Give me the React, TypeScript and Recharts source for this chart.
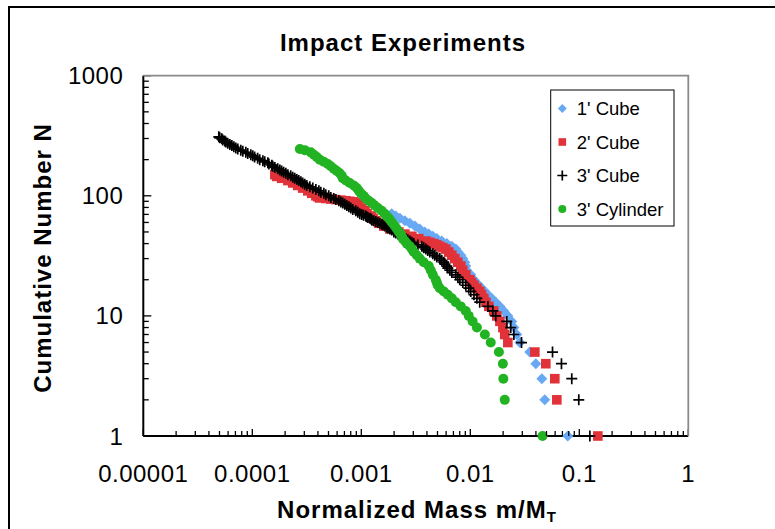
import React from 'react';
import { ScatterChart, Scatter, XAxis, YAxis } from 'recharts';

const massDecades = [0.00001, 0.0001, 0.001, 0.01, 0.1, 1];
const massLabels = ['0.00001', '0.0001', '0.001', '0.01', '0.1', '1'];
const countDecades = [1, 10, 100, 1000];
const countLabels = ['1', '10', '100', '1000'];
const minorSteps = [2, 3, 4, 5, 6, 7, 8, 9];

const seriesNames = ["1' Cube", "2' Cube", "3' Cube", "3' Cylinder"];

// cumulative number N (rank) and normalized mass m/MT
const cube1N = [1, 2, 3, 4, 5, 6, 7, 8, 9, 10, 11, 12, 13, 14, 15, 16, 17, 18, 19, 20, 22, 24, 26, 28, 30, 32, 34, 36, 38, 40, 42, 44, 46, 48, 50, 53, 56, 59, 62, 65, 68, 71];
const cube1M = [0.0784, 0.0482, 0.0453, 0.0399, 0.0351, 0.0285, 0.0267, 0.0251, 0.024, 0.0221, 0.0203, 0.0187, 0.0171, 0.0157, 0.0145, 0.0136, 0.0127, 0.012, 0.0112, 0.0108, 0.0101, 0.00928, 0.00909, 0.0089, 0.00853, 0.00818, 0.00768, 0.00736, 0.00677, 0.00609, 0.00547, 0.00493, 0.00453, 0.00416, 0.00382, 0.00344, 0.0031, 0.00279, 0.00251, 0.00226, 0.00207, 0.0019];

const cube2N = [1, 2, 3, 4, 5, 6, 7, 8, 9, 10, 11, 12, 13, 14, 15, 16, 17, 18, 19, 20, 22, 24, 26, 28, 30, 32, 34, 36, 37, 38, 39, 40, 41, 42, 44, 46, 48, 50, 53, 56, 59, 62, 65, 68, 71, 75, 79, 83, 87, 89, 90, 91, 92, 93, 94, 95, 96, 98, 100, 105, 110, 116, 122, 128, 134, 140, 145, 150];
const cube2M = [0.148, 0.0622, 0.0596, 0.0493, 0.0391, 0.0221, 0.0207, 0.0199, 0.0187, 0.0175, 0.0164, 0.0148, 0.0139, 0.0133, 0.0127, 0.0122, 0.0115, 0.0108, 0.0103, 0.00989, 0.00909, 0.00853, 0.00818, 0.00768, 0.00721, 0.00677, 0.00635, 0.00596, 0.00559, 0.00525, 0.00493, 0.00463, 0.00425, 0.00391, 0.00337, 0.00291, 0.00251, 0.00221, 0.00183, 0.00161, 0.00145, 0.00136, 0.00128, 0.00123, 0.00113, 0.00108, 0.00101, 0.000949, 0.00091, 0.000854, 0.000784, 0.000721, 0.000649, 0.000584, 0.000525, 0.000472, 0.000416, 0.0004, 0.000383, 0.000351, 0.000323, 0.00029, 0.000261, 0.000235, 0.000212, 0.000186, 0.000168, 0.000161];

const cube3N = [1, 2, 3, 4, 5, 6, 7, 8, 9, 10, 11, 12, 13, 14, 15, 16, 17, 18, 19, 20, 21, 22, 23, 24, 25, 26, 27, 28, 29, 30, 31, 32, 33, 34, 35, 36, 37, 38, 39, 40, 41, 42, 43, 44, 45, 46, 47, 48, 49, 50, 52, 53, 54, 55, 56, 57, 58, 59, 60, 61, 62, 63, 64, 65, 66, 67, 68, 69, 70, 71, 73, 75, 77, 79, 81, 83, 85, 87, 89, 91, 93, 95, 97, 100, 102, 105, 107, 110, 113, 116, 119, 122, 125, 128, 131, 134, 137, 140, 143, 147, 150, 154, 157, 161, 164, 168, 172, 176, 180, 184, 188, 192, 196, 200, 205, 210, 215, 220, 225, 230, 235, 240, 245, 250, 256, 262, 268, 274, 280, 286, 292, 298, 304, 310];
const cube3M = [0.125, 0.0989, 0.0853, 0.0686, 0.0568, 0.0295, 0.0251, 0.0235, 0.0216, 0.0171, 0.0161, 0.0145, 0.0122, 0.0115, 0.0108, 0.0101, 0.00968, 0.00909, 0.00853, 0.00801, 0.00768, 0.00736, 0.00677, 0.00649, 0.00622, 0.00609, 0.00584, 0.00571, 0.00547, 0.00525, 0.00493, 0.00472, 0.00453, 0.00425, 0.00407, 0.00391, 0.00374, 0.00359, 0.0033, 0.00303, 0.00291, 0.00279, 0.00267, 0.00256, 0.00245, 0.00235, 0.00226, 0.00216, 0.00207, 0.00199, 0.0019, 0.00183, 0.00175, 0.00171, 0.00164, 0.00158, 0.00154, 0.00148, 0.00142, 0.00136, 0.0013, 0.00125, 0.00123, 0.0012, 0.00115, 0.00112, 0.0011, 0.00105, 0.00101, 0.000969, 0.000929, 0.00089, 0.000835, 0.000801, 0.000769, 0.000736, 0.000706, 0.000676, 0.000649, 0.000622, 0.000584, 0.000559, 0.000525, 0.000503, 0.000472, 0.000453, 0.000425, 0.000408, 0.000383, 0.000359, 0.000337, 0.000316, 0.000303, 0.00029, 0.000279, 0.000267, 0.000256, 0.000245, 0.000235, 0.000225, 0.000212, 0.000203, 0.000194, 0.000186, 0.000179, 0.000171, 0.000161, 0.000154, 0.000151, 0.000142, 0.000139, 0.00013, 0.000125, 0.000117, 0.000112, 0.000105, 0.000101, 0.0000969, 0.0000908, 0.0000872, 0.0000818, 0.0000784, 0.0000736, 0.0000706, 0.0000677, 0.0000649, 0.0000622, 0.0000595, 0.0000571, 0.0000559, 0.0000536, 0.0000525, 0.0000503, 0.0000493];

const cylN = [1, 2, 3, 4, 5, 6, 7, 8, 9, 10, 11, 12, 13, 14, 15, 16, 17, 18, 19, 20, 22, 24, 26, 28, 30, 32, 34, 36, 38, 40, 42, 44, 46, 48, 50, 53, 56, 59, 62, 65, 68, 71, 75, 79, 83, 87, 91, 95, 100, 105, 110, 116, 122, 128, 134, 140, 147, 154, 161, 168, 176, 184, 192, 200, 210, 220, 230, 240, 245];
const cylM = [0.046, 0.0207, 0.0201, 0.0199, 0.0183, 0.0154, 0.0136, 0.0115, 0.0105, 0.00968, 0.00909, 0.00818, 0.00736, 0.00677, 0.00622, 0.00571, 0.00525, 0.00503, 0.00493, 0.00482, 0.00453, 0.00434, 0.00416, 0.00374, 0.00344, 0.00323, 0.00303, 0.00291, 0.00279, 0.00262, 0.00251, 0.0024, 0.00235, 0.0023, 0.00221, 0.00212, 0.00203, 0.00194, 0.00186, 0.00179, 0.00171, 0.00164, 0.00154, 0.00142, 0.00133, 0.00125, 0.00117, 0.0011, 0.00105, 0.00099, 0.000949, 0.00091, 0.000854, 0.000784, 0.000721, 0.000676, 0.000662, 0.000635, 0.000596, 0.000559, 0.000525, 0.000493, 0.000453, 0.000416, 0.000391, 0.000367, 0.000344, 0.000303, 0.000273];

const BLUE = '#68a9f4';
const RED = '#e1323a';
const BLACK = '#000000';
const GREEN = '#22b322';
const FONT = '"Liberation Sans", Arial, sans-serif';

const toPoints = (n: number[], m: number[]) => n.map((v, i) => ({ n: v, m: m[i] }));

const withMinor = (decades: number[]) => {
  const out: number[] = [];
  decades.forEach((d, i) => {
    out.push(d);
    if (i < decades.length - 1) minorSteps.forEach((s) => out.push(d * s));
  });
  return out;
};
const xTicks = withMinor(massDecades);
const yTicks = withMinor(countDecades);

const decadeIndex = (list: number[], v: number) => list.findIndex((d) => Math.abs(v - d) / d < 1e-6);

const MassTick = (props: any) => {
  const { x, y, payload } = props;
  const i = decadeIndex(massDecades, payload.value);
  return (
    <g>
      <line x1={x} x2={x} y1={y} y2={y - (i >= 0 ? 7 : 5)} stroke="#000" strokeWidth={1.3} />
      {i >= 0 && (
        <text x={x} y={y + 46} textAnchor="middle" fontFamily={FONT} fontSize={24} letterSpacing={0.5} fill="#000">
          {massLabels[i]}
        </text>
      )}
    </g>
  );
};

const CountTick = (props: any) => {
  const { x, y, payload } = props;
  const i = decadeIndex(countDecades, payload.value);
  return (
    <g>
      <line x1={x} x2={x + (i >= 0 ? 8 : 5.5)} y1={y} y2={y} stroke="#000" strokeWidth={1.3} />
      {i >= 0 && (
        <text x={x - 20} y={y + 8.5} textAnchor="end" fontFamily={FONT} fontSize={24} letterSpacing={0.5} fill="#000">
          {countLabels[i]}
        </text>
      )}
    </g>
  );
};

const diamond = (cx: number, cy: number, r: number) => (
  <polygon points={`${cx},${cy - r} ${cx + r},${cy} ${cx},${cy + r} ${cx - r},${cy}`} fill={BLUE} />
);
const square = (cx: number, cy: number, r: number) => (
  <rect x={cx - r} y={cy - r} width={2 * r} height={2 * r} fill={RED} />
);
const plus = (cx: number, cy: number, r: number) => (
  <path d={`M${cx - r},${cy}H${cx + r}M${cx},${cy - r}V${cy + r}`} stroke={BLACK} strokeWidth={1.7} fill="none" />
);
const dot = (cx: number, cy: number, r: number) => <circle cx={cx} cy={cy} r={r} fill={GREEN} />;

const legendItems = [
  { name: seriesNames[0], draw: (cx: number, cy: number) => diamond(cx, cy, 4.5) },
  { name: seriesNames[1], draw: (cx: number, cy: number) => square(cx, cy, 3.8) },
  { name: seriesNames[2], draw: (cx: number, cy: number) => plus(cx, cy, 5) },
  { name: seriesNames[3], draw: (cx: number, cy: number) => dot(cx, cy, 4) },
];

export default function App() {
  return (
    <div style={{ position: 'absolute', left: 0, top: 0, width: 775, height: 529, overflow: 'hidden', background: '#fff' }}>
      <div style={{ position: 'absolute', left: 8, top: 5.5, width: 820, height: 600, borderLeft: '2px solid #000', borderTop: '2px solid #000' }} />
      <ScatterChart
        width={775}
        height={529}
        margin={{ top: 75.7, right: 86.7, bottom: 63, left: 0 }}
        style={{ position: 'absolute', left: 0, top: 0 }}
      >
        <XAxis
          dataKey="m"
          type="number"
          scale="log"
          domain={[0.00001, 1]}
          ticks={xTicks}
          interval={0}
          tick={<MassTick />}
          tickLine={false}
          tickSize={0}
          tickMargin={0}
          height={30}
          axisLine={{ stroke: '#000', strokeWidth: 2 }}
        />
        <YAxis
          dataKey="n"
          type="number"
          scale="log"
          domain={[1, 1000]}
          ticks={yTicks}
          interval={0}
          tick={<CountTick />}
          tickLine={false}
          tickSize={0}
          tickMargin={0}
          width={143.3}
          axisLine={{ stroke: '#000', strokeWidth: 2 }}
        />
        <Scatter data={toPoints(cube1N, cube1M)} isAnimationActive={false} shape={(p: any) => diamond(p.cx, p.cy, 5.5)} />
        <Scatter data={toPoints(cube2N, cube2M)} isAnimationActive={false} shape={(p: any) => square(p.cx, p.cy, 4.8)} />
        <Scatter data={toPoints(cube3N, cube3M)} isAnimationActive={false} shape={(p: any) => plus(p.cx, p.cy, 5.5)} />
        <Scatter data={toPoints(cylN, cylM)} isAnimationActive={false} shape={(p: any) => dot(p.cx, p.cy, 5)} />
      </ScatterChart>
      <svg width={775} height={529} style={{ position: 'absolute', left: 0, top: 0, pointerEvents: 'none' }}>
        <path d="M143.3,75.7H688.3V436" stroke="#8a8a8a" strokeWidth={1.8} fill="none" />
        <text x={403} y={51} textAnchor="middle" fontFamily={FONT} fontSize={24} fontWeight="bold" letterSpacing={1}>
          Impact Experiments
        </text>
        <text
          transform="translate(51,258) rotate(-90)"
          textAnchor="middle"
          fontFamily={FONT}
          fontSize={24}
          fontWeight="bold"
          letterSpacing={1}
        >
          Cumulative Number N
        </text>
        <text x={417} y={518} textAnchor="middle" fontFamily={FONT} fontSize={24} fontWeight="bold" letterSpacing={1}>
          Normalized Mass m/M
          <tspan fontSize={15} dy={4}>T</tspan>
        </text>
        <rect x={550.7} y={90} width={123.3} height={136} fill="#fff" stroke="#000" strokeWidth={1} />
        {legendItems.map((item, i) => {
          const cy = 108.5 + i * 33.5;
          return (
            <g key={item.name}>
              {item.draw(562.3, cy)}
              <text x={576.7} y={cy + 6.7} fontFamily={FONT} fontSize={18.5} fill="#000">
                {item.name}
              </text>
            </g>
          );
        })}
      </svg>
    </div>
  );
}
